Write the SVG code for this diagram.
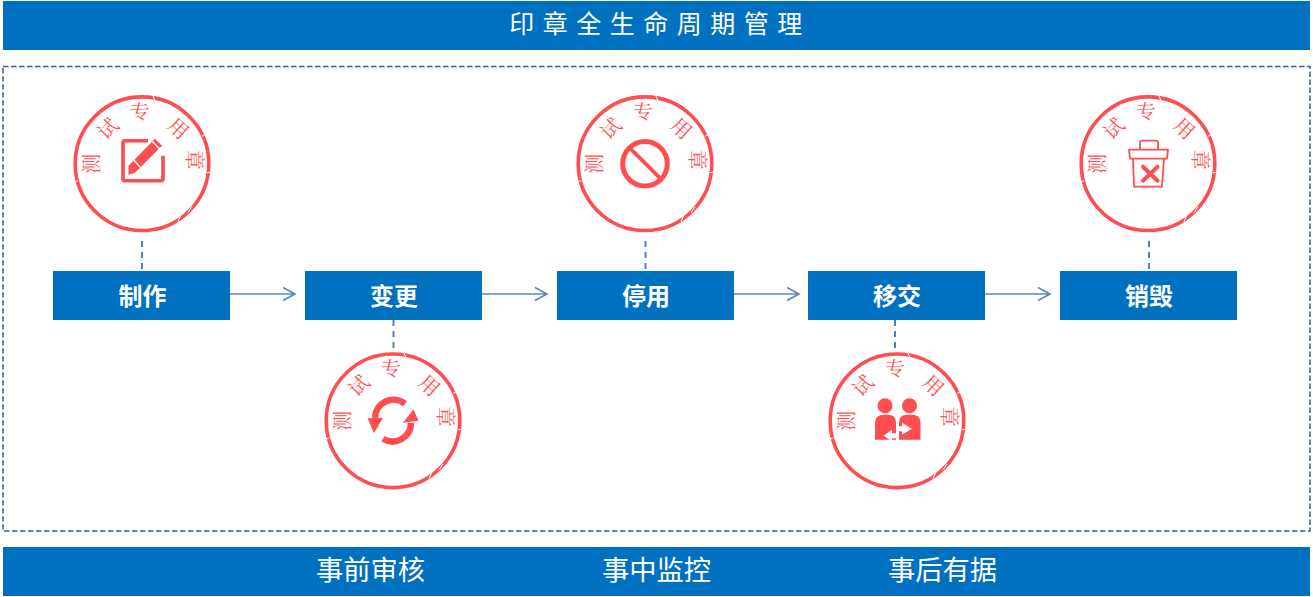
<svg xmlns="http://www.w3.org/2000/svg" width="1313" height="597" viewBox="0 0 1313 597">
<style>
text{font-family:"Microsoft YaHei","Noto Sans CJK SC","Noto Sans",sans-serif;text-anchor:middle}
.band{fill:#0070c0}
.box{fill:#0070c0}
.lbl{fill:#fff;font-size:24px;font-weight:700}
.title{fill:#fff;font-size:25px;letter-spacing:8.5px}
.foot{fill:#fff;font-size:27.300px}
.st{fill:#ff4d50;font-size:20px;font-family:"Noto Serif CJK SC","Noto Sans CJK SC",serif}
.ring{fill:none;stroke:#ff4d50;stroke-width:3.6}
.cut{stroke:#fff;stroke-width:1}
.ic{fill:#ff4d50}
.ico{fill:none;stroke:#ff4d50}
.dash{stroke:#4f81bd;stroke-width:2;stroke-dasharray:6 5;fill:none}
.arr{stroke:#5b86c0;stroke-width:1.6;fill:none}
</style>
<defs>
<g id="ring">
<circle class="ring" r="66.800"/>
<path class="cut" d="M10 -70 L13 -63M60 -27.500 L64 -29M65 9 L71 8M50 43 L46 49M36 58 L39 51M-64 17 L-69 19"/>
</g>
</defs>
<rect class="band" x="3" y="1" width="1307" height="49"/>
<text class="title" x="660" y="33">印章全生命周期管理</text>
<rect x="3" y="66.500" width="1307" height="464.500" fill="none" stroke="#3b5b8c" stroke-width="1.5" stroke-dasharray="5.500 2.500"/>
<rect class="band" x="3" y="547" width="1307" height="49"/>
<text class="foot" x="370.500" y="580">事前审核</text>
<text class="foot" x="656.500" y="580">事中监控</text>
<text class="foot" x="942.500" y="580">事后有据</text>
<g id="connectors">
<path class="dash" d="M142 241V271M393.500 320V352M645.500 241V271M895 320V352M1149 241V271"/>
<path class="arr" d="M230 294H295M283 287.500L295 294L283 300.500"/>
<path class="arr" d="M482 294H547M535 287.500L547 294L535 300.500"/>
<path class="arr" d="M734 294H799M787 287.500L799 294L787 300.500"/>
<path class="arr" d="M985 294H1050M1038 287.500L1050 294L1038 300.500"/>
</g>
<g id="node-make">
<rect class="box" x="53" y="271" width="177" height="49"/>
<text class="lbl" x="142.500" y="305">制作</text>
<g transform="translate(142 163.700)">
<use href="#ring"/>
<text class="st" transform="translate(-50 0) rotate(-90)" y="7">测</text>
<text class="st" transform="translate(-34 -35) rotate(-45)" y="7">试</text>
<text class="st" transform="translate(-2 -52) rotate(-3)" y="7">专</text>
<text class="st" transform="translate(36 -35) rotate(42)" y="7">用</text>
<text class="st" transform="translate(52 -4) rotate(90)" y="7">章</text>
<path class="ico" stroke-width="3.600" stroke-linejoin="round" d="M6 -23H-17Q-19 -23 -19 -21V15Q-19 17 -17 17H19Q21 17 21 15V-8"/>
<path class="ic" d="M-13.500 2L13 -25L20 -18L-7 9L-13.500 11Z"/>
<path d="M-8 -3.500L-1.500 4" stroke="#fff" stroke-width="1.500"/>
<path d="M10.500 -22L17.500 -15" stroke="#fff" stroke-width="1.500"/>
</g>
</g>
<g id="node-change">
<rect class="box" x="305" y="271" width="177" height="49"/>
<text class="lbl" x="394" y="305">变更</text>
<g transform="translate(393 420.800)">
<use href="#ring"/>
<text class="st" transform="translate(-50 0) rotate(-90)" y="7">测</text>
<text class="st" transform="translate(-34 -35) rotate(-45)" y="7">试</text>
<text class="st" transform="translate(-2 -52) rotate(-3)" y="7">专</text>
<text class="st" transform="translate(36 -35) rotate(42)" y="7">用</text>
<text class="st" transform="translate(52 -4) rotate(90)" y="7">章</text>
<path class="ico" stroke-width="6.500" d="M12 -17A18.500 18.500 0 0 0 -18 -3M-10 18A18.500 18.500 0 0 0 18 2"/>
<path class="ic" d="M-25.500 -2.500L-10 -3L-19 12.500ZM25.500 0L10 2L20.500 -11.500Z"/>
</g>
</g>
<g id="node-stop">
<rect class="box" x="557" y="271" width="177" height="49"/>
<text class="lbl" x="646" y="305">停用</text>
<g transform="translate(645 163.700)">
<use href="#ring"/>
<text class="st" transform="translate(-50 0) rotate(-90)" y="7">测</text>
<text class="st" transform="translate(-34 -35) rotate(-45)" y="7">试</text>
<text class="st" transform="translate(-2 -52) rotate(-3)" y="7">专</text>
<text class="st" transform="translate(36 -35) rotate(42)" y="7">用</text>
<text class="st" transform="translate(52 -4) rotate(90)" y="7">章</text>
<circle class="ico" r="22.300" stroke-width="5"/>
<path class="ico" stroke-width="3.800" d="M-14.500 -15L15 14.500"/>
</g>
</g>
<g id="node-transfer">
<rect class="box" x="808" y="271" width="177" height="49"/>
<text class="lbl" x="897" y="305">移交</text>
<g transform="translate(897 420.800)">
<use href="#ring"/>
<text class="st" transform="translate(-50 0) rotate(-90)" y="7">测</text>
<text class="st" transform="translate(-34 -35) rotate(-45)" y="7">试</text>
<text class="st" transform="translate(-2 -52) rotate(-3)" y="7">专</text>
<text class="st" transform="translate(36 -35) rotate(42)" y="7">用</text>
<text class="st" transform="translate(52 -4) rotate(90)" y="7">章</text>
<circle class="ic" cx="-12" cy="-15" r="7.500"/>
<circle class="ic" cx="12.500" cy="-15" r="7.500"/>
<path class="ic" d="M-22 19V2Q-22 -6 -13 -6H-9Q-1 -6 -1 2V19Z"/>
<path class="ic" d="M2 19V2Q2 -6 10 -6H15Q23.500 -6 23.500 2V19Z"/>
<path d="M-13.500 15L-5 9V12.500H-1V17.500H-5V20.500ZM15 8L5 2V5.500H2V10.500H5V14Z" fill="#fff"/>
</g>
</g>
<g id="node-destroy">
<rect class="box" x="1060" y="271" width="177" height="49"/>
<text class="lbl" x="1149" y="305">销毁</text>
<g transform="translate(1148 163.700)">
<use href="#ring"/>
<text class="st" transform="translate(-50 0) rotate(-90)" y="7">测</text>
<text class="st" transform="translate(-34 -35) rotate(-45)" y="7">试</text>
<text class="st" transform="translate(-2 -52) rotate(-3)" y="7">专</text>
<text class="st" transform="translate(36 -35) rotate(42)" y="7">用</text>
<text class="st" transform="translate(52 -4) rotate(90)" y="7">章</text>
<g class="ico" stroke-width="1.800" stroke-linejoin="round">
<path d="M-8 -14V-21Q-8 -23 -6 -23H8Q10 -23 10 -21V-14"/>
<path d="M-19 -14H20L19 -5H-18Z"/>
<path d="M-15 -5L-14 23H14L16 -5"/>
</g>
<path class="ico" stroke-width="4" stroke-linecap="round" d="M-5 3L9.500 17M9.500 3L-5 17"/>
</g>
</g>
</svg>
